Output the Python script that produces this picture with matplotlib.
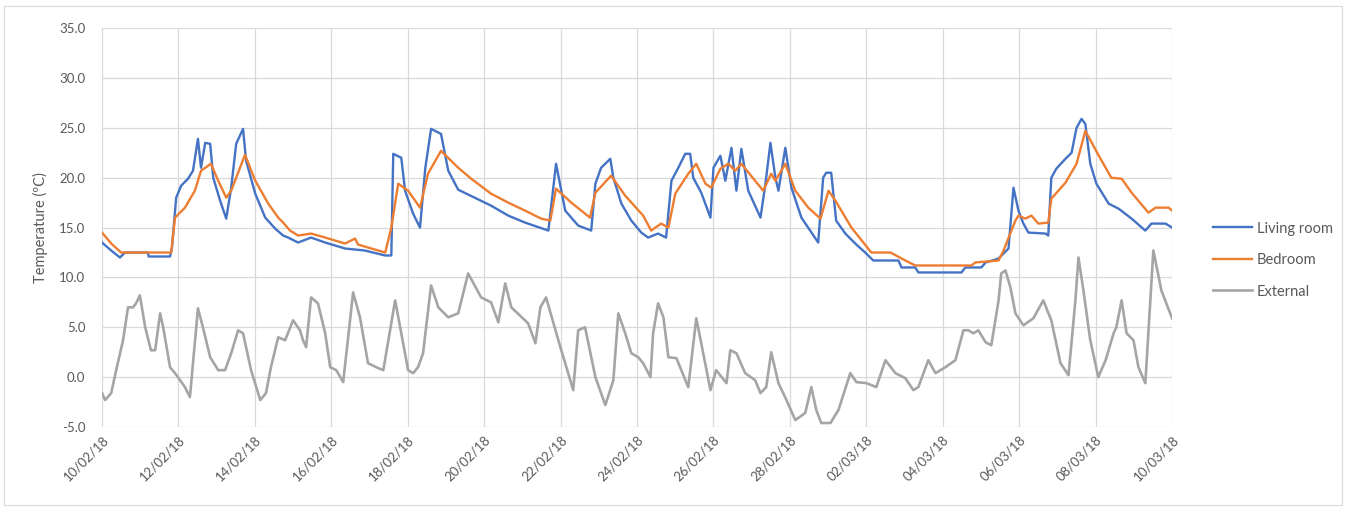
import numpy as np
import pandas as pd
import matplotlib
matplotlib.use("Agg")
import matplotlib.pyplot as plt
import matplotlib.dates as mdates
from matplotlib.patches import Rectangle

plt.rcParams["font.family"] = ["Lato", "DejaVu Sans"]

start = pd.Timestamp("2018-02-10")

# (days since 10/02/18, temperature degC)
living_days = [0, 0.24, 0.47, 0.60, 1.20, 1.22, 1.78, 1.83, 1.94, 2.07, 2.25, 2.38, 2.51, 2.59,
               2.70, 2.83, 2.91, 3.09, 3.25, 3.38, 3.51, 3.69, 3.77, 4.01, 4.27, 4.53, 4.74,
               4.87, 5.13, 5.47, 5.84, 6.36, 6.88, 7.41, 7.57, 7.62, 7.83, 7.93, 8.14, 8.32,
               8.46, 8.61, 8.87, 9.06, 9.32, 10.18, 10.63, 11.07, 11.68, 11.88, 12.12, 12.46,
               12.80, 12.91, 13.06, 13.30, 13.38, 13.59, 13.85, 14.11, 14.29, 14.55, 14.76,
               14.90, 15.08, 15.26, 15.39, 15.47, 15.68, 15.92, 16.00, 16.18, 16.31, 16.47,
               16.60, 16.73, 16.91, 17.23, 17.36, 17.49, 17.62, 17.70, 17.88, 18.04, 18.30,
               18.53, 18.74, 18.87, 18.95, 19.08, 19.21, 19.45, 19.71, 19.97, 20.18, 20.84,
               20.92, 21.28, 21.36, 22.49, 22.59, 23.01, 23.12, 23.46, 23.72, 23.85, 23.98,
               24.11, 24.24, 24.69, 24.76, 24.84, 24.97, 25.21, 25.37, 25.50, 25.63, 25.73,
               25.86, 26.02, 26.34, 26.60, 26.94, 27.30, 27.46, 27.83, 28.0]
living_temp = [13.5, 12.7, 12.0, 12.5, 12.5, 12.1, 12.1, 13.0, 18.0, 19.2, 19.9, 20.7, 23.9, 21.0,
               23.5, 23.4, 20.0, 17.7, 15.9, 19.0, 23.4, 24.9, 21.7, 18.4, 16.0, 14.9, 14.2,
               14.0, 13.5, 14.0, 13.5, 12.9, 12.7, 12.2, 12.2, 22.4, 22.0, 18.7, 16.4, 15.0,
               21.0, 24.9, 24.4, 20.7, 18.8, 17.2, 16.2, 15.5, 14.7, 21.4, 16.7, 15.2,
               14.7, 19.4, 21.0, 21.9, 20.0, 17.4, 15.7, 14.5, 14.0, 14.4, 14.0,
               19.7, 21.0, 22.4, 22.4, 20.0, 18.5, 16.0, 21.0, 22.2, 19.7, 23.0,
               18.7, 22.9, 18.7, 16.0, 19.4, 23.5, 20.0, 18.7, 23.0, 19.0, 16.0,
               14.7, 13.5, 20.0, 20.5, 20.5, 15.7, 14.4, 13.4, 12.5, 11.7, 11.7,
               11.0, 11.0, 10.5, 10.5, 11.0, 11.0, 11.5, 11.9, 12.9, 19.0, 16.7,
               15.4, 14.5, 14.4, 14.2, 20.0, 20.9, 21.9, 22.5, 25.0, 25.9, 25.4,
               21.4, 19.4, 17.4, 16.9, 15.9, 14.7, 15.4, 15.4, 15.0]

bedroom_days = [0, 0.24, 0.50, 1.81, 1.91, 2.17, 2.43, 2.59, 2.85, 3.04, 3.25, 3.38, 3.74, 4.01,
                4.35, 4.61, 4.74, 4.92, 5.13, 5.47, 5.84, 6.36, 6.62, 6.70, 6.96, 7.41, 7.57,
                7.75, 8.01, 8.32, 8.53, 8.87, 9.32, 9.66, 10.18, 10.63, 11.07, 11.49, 11.73,
                11.88, 12.28, 12.77, 12.91, 13.32, 13.69, 14.16, 14.37, 14.63, 14.82, 15.00,
                15.34, 15.55, 15.79, 15.94, 16.18, 16.39, 16.57, 16.73, 17.30, 17.51, 17.62,
                17.88, 18.14, 18.48, 18.80, 19.01, 19.19, 19.61, 20.13, 20.63, 21.02, 21.28,
                22.75, 22.85, 23.46, 23.59, 23.90, 23.98, 24.16, 24.32, 24.50, 24.76, 24.84,
                25.21, 25.50, 25.73, 26.07, 26.41, 26.68, 26.94, 27.38, 27.57, 27.91, 28.0]
bedroom_temp = [14.5, 13.4, 12.5, 12.5, 16.0, 17.0, 18.7, 20.7, 21.4, 19.7, 18.0, 18.7, 22.3, 19.7,
                17.4, 16.0, 15.5, 14.7, 14.2, 14.4, 14.0, 13.4, 13.9, 13.3, 13.0, 12.5, 15.0,
                19.4, 18.7, 17.0, 20.4, 22.7, 21.0, 19.9, 18.4, 17.5, 16.7, 15.9, 15.7,
                18.9, 17.5, 16.0, 18.5, 20.2, 18.2, 16.2, 14.7, 15.4, 15.0, 18.4,
                20.4, 21.4, 19.4, 19.0, 20.9, 21.4, 20.7, 21.4, 18.7, 20.4, 19.7,
                21.4, 18.7, 17.0, 15.9, 18.7, 17.7, 15.0, 12.5, 12.5, 11.7, 11.2,
                11.2, 11.5, 11.7, 12.7, 15.7, 16.2, 15.9, 16.2, 15.4, 15.5, 17.9,
                19.5, 21.4, 24.7, 22.3, 20.0, 19.9, 18.5, 16.5, 17.0, 17.0, 16.7]

external_days = [0, 0.08, 0.24, 0.37, 0.55, 0.68, 0.81, 0.89, 0.99, 1.13, 1.28, 1.39, 1.52, 1.60,
                 1.78, 1.91, 2.17, 2.30, 2.51, 2.64, 2.83, 3.04, 3.22, 3.38, 3.56, 3.69, 3.90,
                 4.14, 4.29, 4.42, 4.61, 4.79, 5.00, 5.18, 5.26, 5.34, 5.47, 5.65, 5.84, 5.97,
                 6.13, 6.31, 6.57, 6.75, 6.96, 7.23, 7.36, 7.67, 7.83, 8.01, 8.14, 8.27, 8.40,
                 8.61, 8.80, 9.06, 9.32, 9.58, 9.92, 10.18, 10.37, 10.55, 10.71, 11.15, 11.34,
                 11.47, 11.62, 11.94, 12.33, 12.46, 12.64, 12.91, 13.17, 13.38, 13.51, 13.69,
                 13.85, 14.03, 14.16, 14.35, 14.42, 14.55, 14.69, 14.82, 15.03, 15.34, 15.55,
                 15.68, 15.92, 16.07, 16.34, 16.44, 16.60, 16.83, 17.09, 17.23, 17.38, 17.51,
                 17.70, 17.91, 18.14, 18.40, 18.56, 18.69, 18.82, 19.06, 19.27, 19.58, 19.74,
                 20.00, 20.26, 20.50, 20.76, 21.02, 21.23, 21.36, 21.62, 21.81, 22.07, 22.33,
                 22.54, 22.67, 22.80, 22.93, 23.12, 23.27, 23.46, 23.53, 23.64, 23.77, 23.90,
                 24.11, 24.37, 24.63, 24.84, 25.08, 25.29, 25.47, 25.55, 25.68, 25.86, 26.07,
                 26.26, 26.47, 26.54, 26.68, 26.81, 26.99, 27.12, 27.30, 27.51, 27.72, 28.0]
external_temp = [-1.6, -2.3, -1.6, 0.7, 3.7, 7.0, 7.0, 7.4, 8.2, 5.0, 2.7, 2.7, 6.4, 5.0,
                 1.0, 0.4, -1.0, -2.0, 6.9, 5.0, 2.0, 0.7, 0.7, 2.4, 4.7, 4.4, 0.7,
                 -2.3, -1.6, 1.0, 4.0, 3.7, 5.7, 4.7, 3.7, 3.0, 8.0, 7.4, 4.4, 1.0,
                 0.7, -0.5, 8.5, 6.0, 1.4, 0.9, 0.7, 7.7, 4.4, 0.7, 0.4, 1.0, 2.4,
                 9.2, 7.0, 6.0, 6.4, 10.4, 8.0, 7.5, 5.5, 9.4, 7.0, 5.4, 3.4,
                 7.0, 8.0, 3.7, -1.3, 4.7, 5.0, 0.0, -2.8, -0.3, 6.4, 4.4,
                 2.4, 2.0, 1.4, 0.0, 4.4, 7.4, 6.0, 2.0, 1.9, -1.0, 5.9,
                 3.4, -1.3, 0.7, -0.6, 2.7, 2.4, 0.4, -0.3, -1.6, -1.0, 2.5,
                 -0.6, -2.3, -4.3, -3.6, -1.0, -3.3, -4.6, -4.6, -3.3, 0.4, -0.5,
                 -0.6, -1.0, 1.7, 0.4, -0.1, -1.3, -1.0, 1.7, 0.4, 1.0, 1.7,
                 4.7, 4.7, 4.4, 4.7, 3.5, 3.2, 7.7, 10.4, 10.7, 9.0, 6.4,
                 5.2, 5.9, 7.7, 5.7, 1.4, 0.2, 7.7, 12.0, 8.7, 3.7, 0.0,
                 1.7, 4.4, 5.0, 7.7, 4.4, 3.7, 1.0, -0.6, 12.7, 8.7, 5.9]


def to_time(days):
    return start + pd.to_timedelta(np.array(days), unit="D")


fig = plt.figure(figsize=(13.55, 5.12), dpi=100)
ax = fig.add_axes([0.0753, 0.166, 0.7897, 0.779])

ax.plot(to_time(living_days), living_temp, color="#4472C4", lw=1.7, label="Living room")
ax.plot(to_time(bedroom_days), bedroom_temp, color="#ED7D31", lw=1.7, label="Bedroom")
ax.plot(to_time(external_days), external_temp, color="#A5A5A5", lw=1.9, label="External")

ax.set_xlim(start, start + pd.Timedelta(days=28))
ax.set_ylim(-5, 35)
ax.set_yticks(np.arange(-5, 36, 5))
ax.yaxis.set_major_formatter(matplotlib.ticker.FormatStrFormatter("%.1f"))
ax.set_xticks(pd.date_range(start, periods=15, freq="2D"))
ax.xaxis.set_major_formatter(mdates.DateFormatter("%d/%m/%y"))

for s in ax.spines.values():
    s.set_visible(False)
ax.grid(color="#d9d9d9", lw=0.9)
ax.set_axisbelow(True)
ax.tick_params(axis="both", length=0, labelsize=9.5, labelcolor="#595959")
ax.tick_params(axis="y", pad=12)
ax.tick_params(axis="x", pad=5)
for lab in ax.get_xticklabels():
    lab.set_rotation(45)
    lab.set_ha("right")
    lab.set_va("top")
    lab.set_rotation_mode("anchor")

ax.set_ylabel("Temperature (ºC)", fontsize=10.5, color="#595959", labelpad=8)

ax.legend(loc="center left", bbox_to_anchor=(1213 / 1355, 1 - 260 / 512),
          bbox_transform=fig.transFigure, frameon=False, fontsize=10.5,
          labelcolor="#595959", handlelength=2.7, handletextpad=0.3,
          labelspacing=1.2, borderpad=0, borderaxespad=0)

fig.patches.append(Rectangle((4 / 1355, 1 - 505 / 512), 1338 / 1355, 499 / 512,
                             transform=fig.transFigure, fill=False,
                             edgecolor="#d9d9d9", lw=0.8))

fig.savefig("out.png", dpi=100, facecolor="white")
